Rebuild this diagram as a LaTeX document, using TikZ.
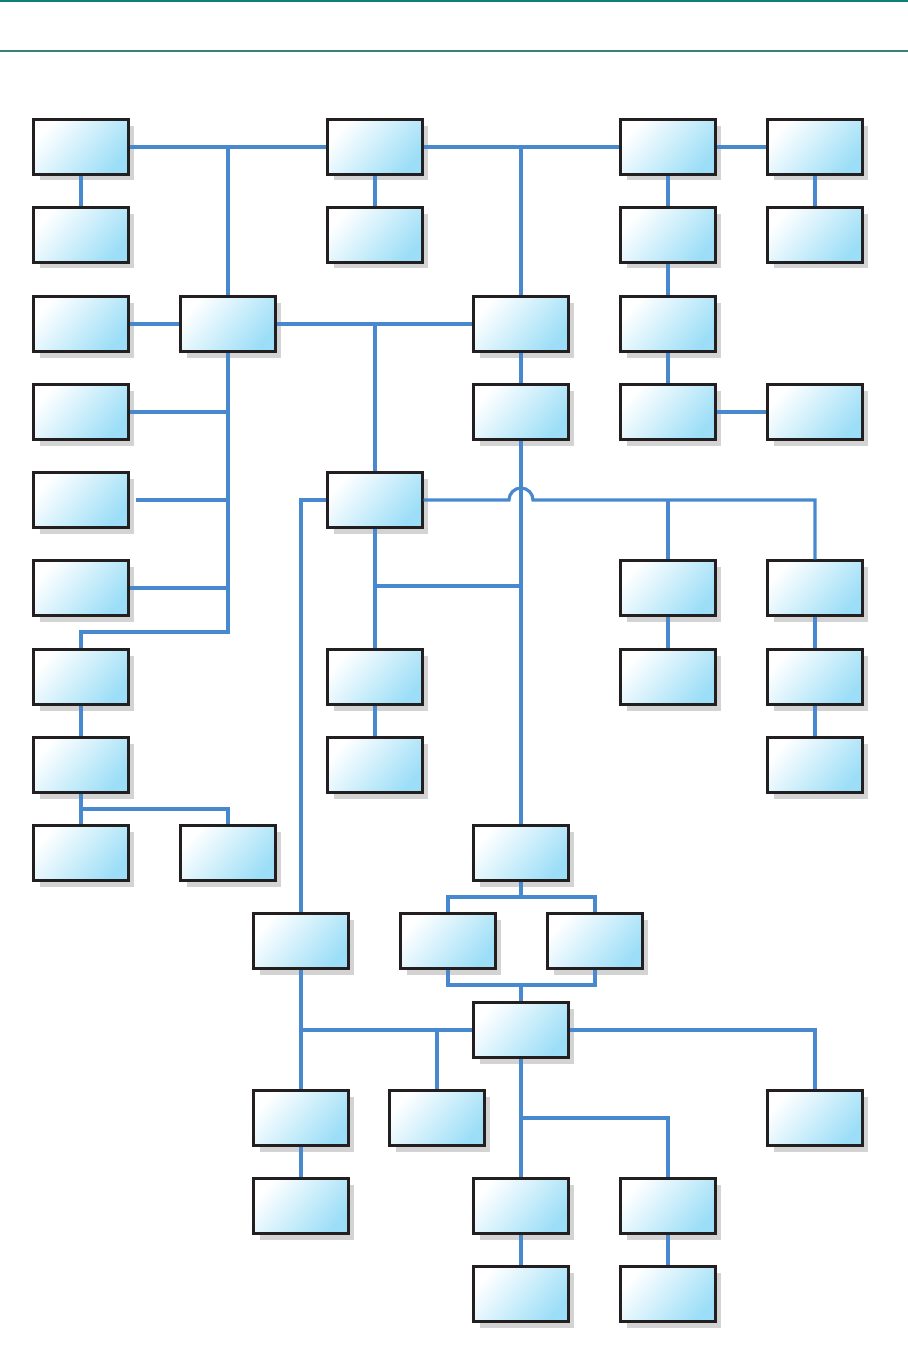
\documentclass[tikz,border=0pt]{standalone}
\usetikzlibrary{shadows}
\definecolor{link}{RGB}{72,136,206}
\definecolor{boxblue}{RGB}{156,222,247}
\definecolor{boxline}{RGB}{35,31,32}
\definecolor{shade}{RGB}{211,211,211}
\definecolor{rule}{RGB}{10,128,120}

\begin{document}
\begin{tikzpicture}[
  x=0.02cm, y=-0.02cm,
  unit/.style={draw=boxline, line width=1.25pt, inner sep=0pt,
               minimum width=1.9cm, minimum height=1.1cm,
               top color=white, bottom color=boxblue, shading angle=50,
               general shadow={fill=shade, shadow xshift=0.12cm, shadow yshift=-0.12cm}},
  wire/.style={draw=link, line width=1.8pt}
]
\useasboundingbox (0,0) rectangle (908,1346);

% -- page rules --
\draw[rule, line width=1.4pt] (0,1) -- (908,1);
\draw[rule!60!gray, line width=0.6pt] (0,51) -- (908,51);

% -- rows 1-4 --
\node[unit] (a1) at (81,147) {};
\node[unit] (a2) at (375,147) {};
\node[unit] (a3) at (668,147) {};
\node[unit] (a4) at (815,147) {};

\node[unit] (b1) at (81,235) {};
\node[unit] (b2) at (375,235) {};
\node[unit] (b3) at (668,235) {};
\node[unit] (b4) at (815,235) {};

\node[unit] (c1) at (81,324) {};
\node[unit] (c2) at (228,324) {};
\node[unit] (c3) at (521,324) {};
\node[unit] (c4) at (668,324) {};

\node[unit] (d1) at (81,412) {};
\node[unit] (d2) at (521,412) {};
\node[unit] (d3) at (668,412) {};
\node[unit] (d4) at (815,412) {};

% -- rows 5-9 --
\node[unit] (e1) at (81,500) {};
\node[unit] (e2) at (375,500) {};

\node[unit] (f1) at (81,588) {};
\node[unit] (f2) at (668,588) {};
\node[unit] (f3) at (815,588) {};

\node[unit] (g1) at (81,677) {};
\node[unit] (g2) at (375,677) {};
\node[unit] (g3) at (668,677) {};
\node[unit] (g4) at (815,677) {};

\node[unit] (h1) at (81,765) {};
\node[unit] (h2) at (375,765) {};
\node[unit] (h3) at (815,765) {};

\node[unit] (i1) at (81,853) {};
\node[unit] (i2) at (228,853) {};
\node[unit] (i3) at (521,853) {};

% -- rows 10-14 --
\node[unit] (j1) at (301,941) {};
\node[unit] (j2) at (448,941) {};
\node[unit] (j3) at (595,941) {};

\node[unit] (k1) at (521,1030) {};

\node[unit] (l1) at (301,1118) {};
\node[unit] (l2) at (437,1118) {};
\node[unit] (l3) at (815,1118) {};

\node[unit] (m1) at (301,1206) {};
\node[unit] (m2) at (521,1206) {};
\node[unit] (m3) at (668,1206) {};

\node[unit] (n1) at (521,1294) {};
\node[unit] (n2) at (668,1294) {};

% -- bend and junction points --
\coordinate (lbus)  at (228,632);
\coordinate (hop)   at (521,500);
\coordinate (mid)   at (521,586);
\coordinate (lbr)   at (81,809);
\coordinate (split) at (521,897);
\coordinate (merge) at (521,985);
\coordinate (rbr)   at (521,1118);

% -- top level --
\draw[wire] (a1) -- (a2);
\draw[wire] (a1 -| c2) -- (c2);
\draw[wire] (a1) -- (b1);
\draw[wire] (a2) -- (a3);
\draw[wire] (a2 -| c3) -- (c3);
\draw[wire] (a2) -- (b2);
\draw[wire] (a3) -- (a4);
\draw[wire] (a3) -- (b3) -- (c4) -- (d3);
\draw[wire] (a4) -- (b4);
\draw[wire] (d3) -- (d4);

% -- left bus --
\draw[wire] (c1) -- (c2);
\draw[wire] (c2.south) -- (lbus) -| (g1.north);
\draw[wire] (d1.east) -- (d1 -| c2);
\draw[wire] ([xshift=0.12cm]e1.east) -- (e1 -| c2);
\draw[wire] (f1.east) -- (f1 -| c2);
\draw[wire] (g1) -- (h1) -- (i1);
\draw[wire] (lbr) -| (i2);

% -- middle --
\draw[wire] (c2) -- (c3);
\draw[wire] (c2 -| e2) -- (e2);
\draw[wire] (c3) -- (d2);
\draw[wire] (d2) -- (i3);
\draw[wire] (e2.east) -- ([xshift=-0.24cm]hop)
  arc[start angle=180, end angle=360, radius=12] -- (hop -| f3) -- (f3);
\draw[wire] (hop -| f2) -- (f2);
\draw[wire] (e2.west) -| (j1);
\draw[wire] (e2) -- (g2) -- (h2);
\draw[wire] (g2 |- mid) -- (mid);
\draw[wire] (f2) -- (g3);
\draw[wire] (f3) -- (g4) -- (h3);

% -- lower part --
\draw[wire] (i3) -- (split);
\draw[wire] (j2) |- (split) -| (j3);
\draw[wire] (j2) |- (merge) -| (j3);
\draw[wire] (merge) -- (k1);
\draw[wire] (j1) -- (l1) -- (m1);
\draw[wire] (k1.west) -- (k1 -| j1);
\draw[wire] (k1 -| l2) -- (l2);
\draw[wire] (k1.east) -| (l3);
\draw[wire] (k1) -- (m2) -- (n1);
\draw[wire] (rbr) -| (m3);
\draw[wire] (m3) -- (n2);

\end{tikzpicture}
\end{document}
